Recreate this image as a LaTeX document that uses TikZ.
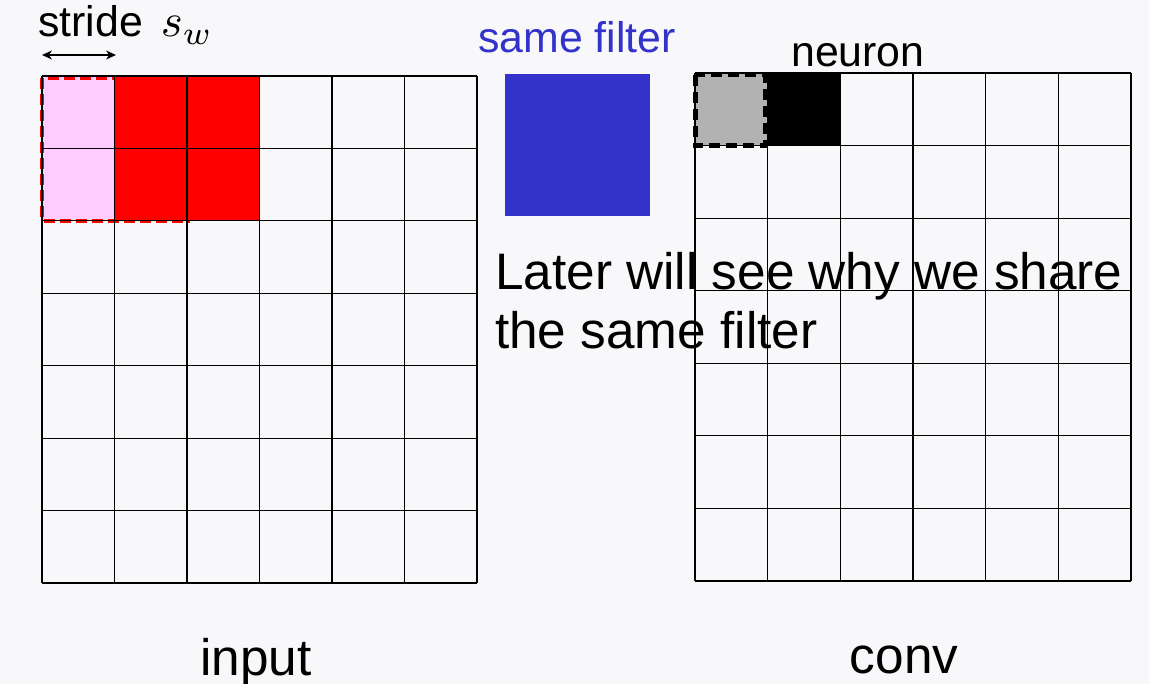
\documentclass[tikz,border=0pt]{standalone}
\usepackage{fontspec}
\setmainfont{Liberation Sans}
\usetikzlibrary{arrows.meta, positioning}
\definecolor{bgpage}{RGB}{248,248,250}
\definecolor{filterblue}{RGB}{51,51,204}
\definecolor{pinkcell}{RGB}{255,204,255}
\definecolor{greycell}{RGB}{178,178,178}

\begin{document}
\begin{tikzpicture}[x=1bp, y=-1bp,
  gridline/.style={line width=1.2bp},
  bigtxt/.style={font=\fontsize{51.5}{59}\selectfont, inner sep=0pt},
  smalltxt/.style={font=\fontsize{43}{50}\selectfont, inner sep=0pt}]
  \fill[bgpage] (0,0) rectangle (1149,684);
  \useasboundingbox (0,0) rectangle (1149,684);

  % Input layer with receptive field
  \fill[pinkcell] (42,76) rectangle (115,220);
  \fill[red] (115,76) rectangle (260,220);
  \draw[red, line width=4bp, dash pattern=on 11bp off 5bp] (42,78) rectangle (188,220.5);
  \foreach \i in {0,...,6} \draw[gridline] ({42+\i*72.5},76) -- ({42+\i*72.5},583);
  \foreach \j in {0,...,7} \draw[gridline] (42,{76+\j*72.43}) -- (477,{76+\j*72.43});

  % Stride
  \node[smalltxt, anchor=base west] (stridelbl) at (38,37) {stride};
  \node[inner sep=0pt, anchor=base west, scale=4.7] (swlbl) at (160,37) {$s_w$};
  \coordinate (strideL) at (42,55);
  \coordinate (strideR) at (116,55);
  \draw[{Stealth[length=10bp,width=9bp]}-{Stealth[length=10bp,width=9bp]}, line width=1.3bp] (strideL) -- (strideR);

  % Shared filter
  \fill[filterblue] (505,74) rectangle (650,216);
  \node[smalltxt, text=filterblue, anchor=base west] (samelbl) at (478,53) {same filter};

  % Conv layer
  \fill[greycell] (695,73) rectangle (768,146);
  \fill[black] (768,73) rectangle (841,146);
  \draw[black, line width=5bp, dash pattern=on 11bp off 6bp] (695,75) rectangle (765,146);
  \foreach \i in {0,...,6} \draw[gridline] ({695+\i*72.67},73) -- ({695+\i*72.67},581);
  \foreach \j in {0,...,7} \draw[gridline] (695,{73+\j*72.57}) -- (1131,{73+\j*72.57});
  \node[smalltxt, anchor=base west] (neuronlbl) at (791,67) {neuron};

  % Remark
  \node[bigtxt, anchor=base west] (laterA) at (495,289) {Later will see why we share};
  \node[bigtxt, anchor=base west] (laterB) at (495,348) {the same filter};

  % Layer names
  \node[bigtxt, anchor=base] (inputlbl) at (256,675) {input};
  \node[bigtxt, anchor=base] (convlbl) at (904,673) {conv};
\end{tikzpicture}
\end{document}
